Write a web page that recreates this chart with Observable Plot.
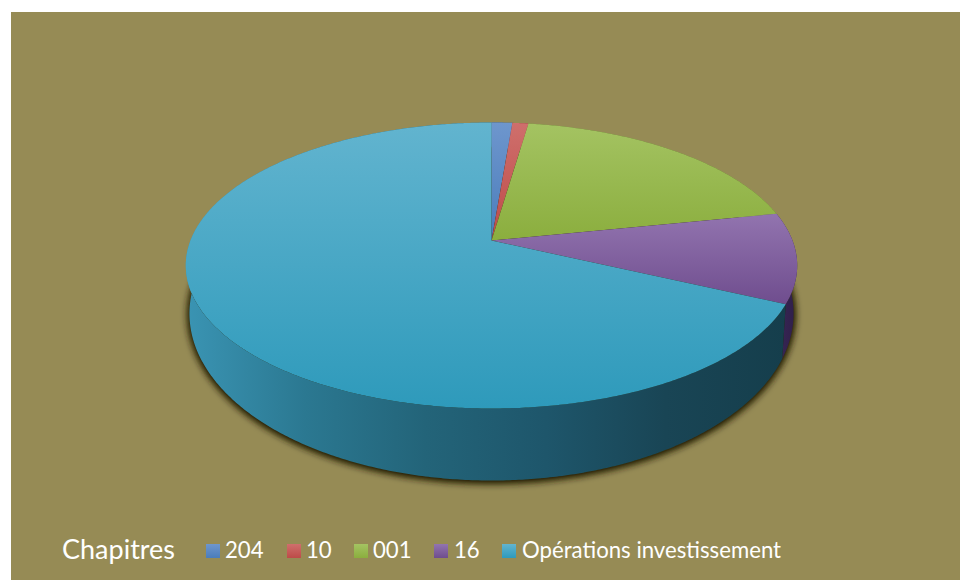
<!DOCTYPE html>
<html>
<head>
<meta charset="utf-8">
<script src="https://cdn.jsdelivr.net/npm/d3@7"></script>
<script src="https://cdn.jsdelivr.net/npm/@observablehq/plot@0.6"></script>
<style>
  html, body { margin: 0; padding: 0; background: #fff; }
  #panel { position: absolute; left: 11px; top: 12px; width: 949px; height: 568px; background: #968b55; overflow: hidden; }
  #chart svg { display: block; background: transparent; }
  #legend { position: absolute; left: 0; top: 515px; width: 949px; height: 53px; color: #fff; font-family: Lato, sans-serif; }
  #legend span { position: absolute; white-space: nowrap; line-height: 1; }
  #legend .title { font-size: 27px; left: 51px; top: 8px; }
  #legend .swatch { width: 14px; height: 14px; top: 17px; }
  #legend .label { font-size: 22.2px; top: 12px; }
</style>
</head>
<body>
<div id="panel">
  <div id="chart"></div>
  <div id="legend"></div>
</div>
<script>
const legendTitle = "Chapitres";
const categories = ["204", "10", "001", "16", "Opérations investissement"];
const shares = [1.3, 1.0, 19.5, 10.2, 68.0];
const topLight = ["#6e96cd", "#cf6f6c", "#a4c362", "#9274af", "#62b4cf"];
const topDark = ["#4a7dbb", "#bd4b48", "#8bae3e", "#6f4d8e", "#2e9abb"];
const wallStops = [
  ["#254f8a", "#254f8a"],
  ["#8a2f2c", "#8a2f2c"],
  ["#5f7d2a", "#5f7d2a"],
  ["#3a2758", "#2f1f49"],
  ["#3a94b3", "#2b7891", "#236479", "#1e566b", "#194555", "#153e4c"]
];
const legendSwatchX = [195, 276, 343, 423, 491];
const legendLabelX = [214, 295, 362, 443, 511];

// Perspective of the disc: a unit circle seen from above, top face and base.
const persp = -0.1748;
const faces = {
  top: {k: 1, y0: 0, ky: 0.4605},
  base: {k: 0.988, y0: 0.1455, ky: 0.5125}
};
function project(turn, face) {
  const a = turn * 2 * Math.PI, u = Math.sin(a), v = -Math.cos(a);
  const w = 1 + persp * v, f = faces[face];
  return {x: f.k * u / w, y: (f.y0 + f.ky * v) / w};
}
function arc(t0, t1, face) {
  const n = Math.max(2, Math.ceil(Math.abs(t1 - t0) * 720));
  return d3.range(n + 1).map(i => project(t0 + (t1 - t0) * i / n, face));
}

const total = d3.sum(shares);
const cum = d3.cumsum(shares).map(d => d / total);
const slices = categories.map((name, i) => ({name, i, t0: i ? cum[i - 1] : 0, t1: cum[i]}));

const defsMark = () => {
  const ns = "http://www.w3.org/2000/svg";
  const defs = document.createElementNS(ns, "defs");
  let html = "";
  slices.forEach(s => {
    html += `<linearGradient id="top${s.i}" x1="0" y1="0" x2="0" y2="1"><stop offset="0" stop-color="${topLight[s.i]}"/><stop offset="1" stop-color="${topDark[s.i]}"/></linearGradient>`;
    const st = wallStops[s.i];
    html += `<linearGradient id="wall${s.i}" x1="0" y1="0" x2="1" y2="0">` +
      st.map((c, j) => `<stop offset="${j / (st.length - 1)}" stop-color="${c}"/>`).join("") + `</linearGradient>`;
  });
  html += `<filter id="soft" x="-5%" y="-5%" width="110%" height="110%"><feGaussianBlur stdDeviation="3"/></filter>`;
  defs.innerHTML = html;
  return defs;
};

const shadow = Plot.line(arc(0, 1, "base").map(p => ({x: p.x, y: p.y + 0.004})), {
  x: "x", y: "y", fill: "#221a05", stroke: "#221a05", strokeWidth: 5,
  render(index, scales, values, dims, ctx, next) {
    const g = next(index, scales, values, dims, ctx);
    g.setAttribute("filter", "url(#soft)");
    return g;
  }
});
const walls = slices.map(s => Plot.line(
  [...arc(s.t0, s.t1, "top"), ...arc(s.t1, s.t0, "base")],
  {x: "x", y: "y", fill: `url(#wall${s.i})`, stroke: "none"}
));
const tops = slices.map(s => Plot.line(
  [{x: 0, y: 0}, ...arc(s.t0, s.t1, "top"), {x: 0, y: 0}],
  {x: "x", y: "y", fill: `url(#top${s.i})`, stroke: "none"}
));

const plot = Plot.plot({
  width: 949, height: 515,
  margin: 0,
  style: {background: "transparent"},
  x: {domain: [-1, 1], range: [179, 781], axis: null},
  y: {domain: [-1, 1], range: [-73, 529], axis: null},
  marks: [defsMark, shadow, ...walls, ...tops]
});
document.getElementById("chart").appendChild(plot);

const legend = document.getElementById("legend");
const add = (cls, text, left, bg) => {
  const s = document.createElement("span");
  s.className = cls;
  if (text) s.textContent = text;
  if (left != null) s.style.left = left + "px";
  if (bg) s.style.background = bg;
  legend.appendChild(s);
};
add("title", legendTitle);
categories.forEach((c, i) => {
  add("swatch", "", legendSwatchX[i], `linear-gradient(${topLight[i]}, ${topDark[i]})`);
  add("label", c, legendLabelX[i]);
});
</script>
</body>
</html>
